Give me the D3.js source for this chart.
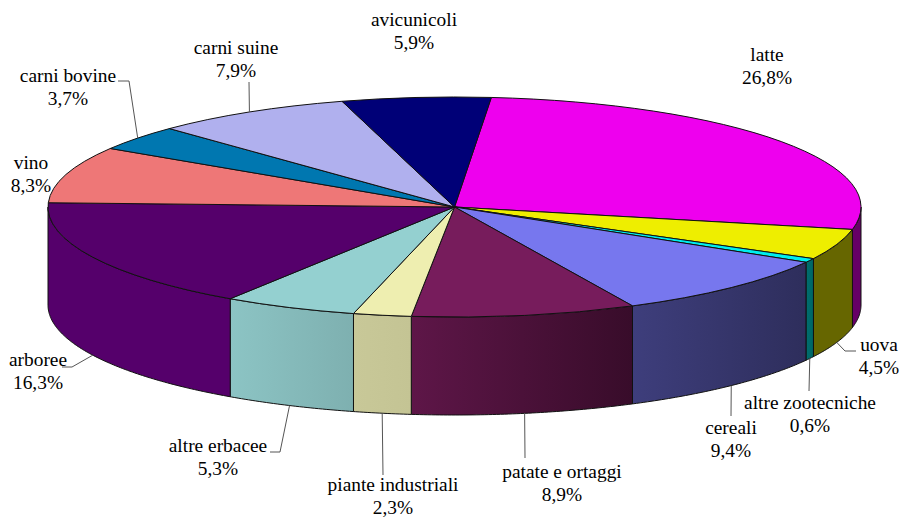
<!DOCTYPE html>
<html>
<head>
<meta charset="utf-8">
<script src="https://cdn.jsdelivr.net/npm/d3@7"></script>
<style>
  body { margin: 0; background: #fff; }
  text { font-family: "Liberation Serif", serif; font-size: 19.4px; fill: #000; }
</style>
</head>
<body>
<div id="container"></div>
<script>
/* DATA */
const categories = ["latte", "uova", "altre zootecniche", "cereali", "patate e ortaggi", "piante industriali",
  "altre erbacee", "arboree", "vino", "carni bovine", "carni suine", "avicunicoli"];
const values = [26.8, 4.5, 0.6, 9.4, 8.9, 2.3, 5.3, 16.3, 8.3, 3.7, 7.9, 5.9];
const valueLabels = ["26,8%", "4,5%", "0,6%", "9,4%", "8,9%", "2,3%", "5,3%", "16,3%", "8,3%", "3,7%", "7,9%", "5,9%"];

/* COLORS */
const topColors = ["#ee00ee", "#eeee00", "#00eeee", "#7777ee", "#771c5c", "#eeeeb0", "#94d0d0", "#55006b", "#ee7777", "#0077b0", "#b0b0ee", "#000077"];
const wallLeft = ["#660066", "#666600", "#006e6e", "#3e3e7c", "#5e1648", "#c8c898", "#8cc4c4", "#55006b", "#ee7777", "#0077b0", "#b0b0ee", "#000077"];
const wallRight = ["#660066", "#666600", "#006666", "#2e2e5c", "#380c2a", "#c4c494", "#7eb0b0", "#55006b", "#ee7777", "#0077b0", "#b0b0ee", "#000077"];

/* LAYOUT */
const width = 903;
const height = 519;
const cx = 454.5, cy = 207, rx = 406.5, ry = 110, depth = 98;
const startDeg = 5.2;

// label centre x, first baseline y, leader bend points (null = no leader)
const labelX = [767, 879, 810, 731, 562, 393, 218, 38, 31, 68, 236, 414];
const labelY = [61, 351, 409, 434, 478, 491, 452, 366, 169, 82, 54, 26];
const leaders = [null, [[845, 351], [856, 351]], [[809, 391]], [[731, 416]], [[525, 458]], [[383, 475]],
  [[280, 452], [270, 452]], [[72, 367], [62, 367]], null, [[129, 81], [118, 81]], [[249, 82]], null];

/* PIE */
const pie = d3.pie().sort(null)
  .startAngle(startDeg * Math.PI / 180)
  .endAngle((startDeg + 360) * Math.PI / 180);
const slices = pie(values);

const px = a => cx + rx * Math.sin(a);
const py = (a, off = 0) => cy - ry * Math.cos(a) + off;

const svg = d3.select("#container").append("svg")
  .attr("width", width)
  .attr("height", height)
  .style("display", "block");

const defs = svg.append("defs");
slices.forEach((s, i) => {
  const g = defs.append("linearGradient").attr("id", "wall" + i);
  g.append("stop").attr("offset", "0%").attr("stop-color", wallLeft[i]);
  g.append("stop").attr("offset", "100%").attr("stop-color", wallRight[i]);
});

/* WALLS - only the front half of the cylinder shows */
const wallPath = s => {
  const a0 = Math.max(s.startAngle, Math.PI / 2);
  const a1 = Math.min(s.endAngle, Math.PI * 1.5);
  if (a1 <= a0) return null;
  const steps = d3.range(a0, a1, 0.01).concat([a1]);
  const line = d3.line();
  const front = steps.map(a => [px(a), py(a)]);
  const back = steps.slice().reverse().map(a => [px(a), py(a, depth)]);
  return line(front.concat(back)) + "Z";
};

svg.append("g").selectAll("path")
  .data(slices)
  .join("path")
  .attr("d", d => wallPath(d))
  .attr("fill", (d, i) => `url(#wall${i})`)
  .attr("stroke", "#111")
  .attr("stroke-width", 1);

/* TOP FACE */
const arc = d3.arc().innerRadius(0).outerRadius(rx);
svg.append("g")
  .attr("transform", `translate(${cx},${cy}) scale(1,${ry / rx})`)
  .selectAll("path")
  .data(slices)
  .join("path")
  .attr("d", arc)
  .attr("fill", (d, i) => topColors[i])
  .attr("stroke", "#111")
  .attr("stroke-width", 1)
  .attr("vector-effect", "non-scaling-stroke");

/* LEADERS */
const midAngle = d => (d.startAngle + d.endAngle) / 2;
svg.append("g").selectAll("path")
  .data(slices)
  .join("path")
  .attr("d", (d, i) => {
    if (!leaders[i]) return null;
    const a = midAngle(d);
    const off = Math.cos(a) < 0 ? depth : 0;
    return d3.line()([[px(a), py(a, off)], ...leaders[i]]);
  })
  .attr("fill", "none")
  .attr("stroke", "#555")
  .attr("stroke-width", 1);

/* LABELS */
const labels = svg.append("g").selectAll("text")
  .data(categories)
  .join("text")
  .attr("text-anchor", "middle")
  .attr("x", (d, i) => labelX[i])
  .attr("y", (d, i) => labelY[i]);
labels.append("tspan").text(d => d);
labels.append("tspan")
  .attr("x", (d, i) => labelX[i])
  .attr("dy", 23)
  .text((d, i) => valueLabels[i]);
</script>
</body>
</html>
